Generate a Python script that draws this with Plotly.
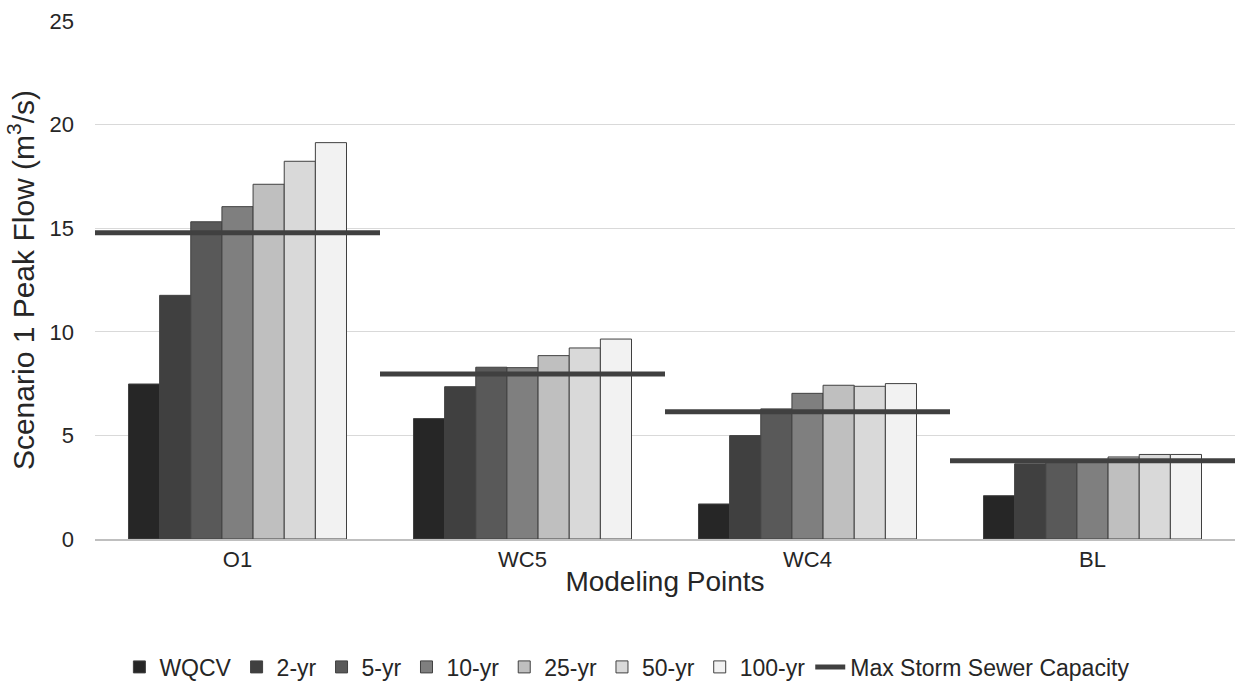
import plotly.graph_objects as go

categories = ["O1", "WC5", "WC4", "BL"]
series_names = ["WQCV", "2-yr", "5-yr", "10-yr", "25-yr", "50-yr", "100-yr"]
wqcv = [7.48, 5.81, 1.69, 2.09]
yr2 = [11.76, 7.35, 4.99, 3.63]
yr5 = [15.31, 8.29, 6.28, 3.74]
yr10 = [16.04, 8.27, 7.03, 3.77]
yr25 = [17.12, 8.85, 7.42, 3.96]
yr50 = [18.23, 9.22, 7.37, 4.08]
yr100 = [19.13, 9.65, 7.50, 4.08]
capacity = [14.78, 7.96, 6.14, 3.78]
y_ticks = [0, 5, 10, 15, 20, 25]

series_values = [wqcv, yr2, yr5, yr10, yr25, yr50, yr100]
colors = ["#262626", "#404040", "#595959", "#7f7f7f", "#bfbfbf", "#d9d9d9", "#f2f2f2"]

FONT = "Liberation Sans, Arial, sans-serif"

fig = go.Figure()
for name, vals, col in zip(series_names, series_values, colors):
    fig.add_trace(go.Bar(
        x=categories, y=vals, name=name,
        marker=dict(color=col, line=dict(color="#404040", width=1)),
    ))

# capacity segments spanning each category slot
cx, cy = [], []
for i, v in enumerate(capacity):
    cx += [i - 0.5, i + 0.5, None]
    cy += [v, v, None]
fig.add_trace(go.Scatter(
    x=cx, y=cy, xaxis="x2", mode="lines", name="Max Storm Sewer Capacity",
    line=dict(color="#404040", width=5), connectgaps=False,
))

fig.update_layout(
    width=1238, height=686,
    margin=dict(l=95, r=3, t=21, b=147, autoexpand=False),
    paper_bgcolor="white", plot_bgcolor="white",
    barmode="group", bargap=0.235, bargroupgap=0,
    font=dict(family=FONT, size=22, color="#262626"),
    showlegend=True,
    legend=dict(orientation="h", x=0.467, xanchor="center", y=-0.247, yanchor="middle",
                font=dict(size=23, color="#262626"), traceorder="normal",
                itemwidth=30, tracegroupgap=0),
    xaxis=dict(
        type="category", range=[-0.5, 3.5], automargin=False,
        showgrid=False, showline=True, linecolor="#bfbfbf", linewidth=1.5,
        ticks="", tickfont=dict(size=22, color="#262626"), ticklabelstandoff=0,
        title=dict(text="Modeling Points", font=dict(size=28, color="#262626"), standoff=0),
    ),
    xaxis2=dict(overlaying="x", range=[-0.5, 3.5], visible=False, fixedrange=True),
    yaxis=dict(
        range=[0, 25], tickvals=y_ticks, showgrid=True, gridcolor="#d9d9d9", gridwidth=1,
        zeroline=False, showline=False, ticks="", automargin=False,
        tickfont=dict(size=22, color="#262626"), ticklabelstandoff=20,
        title=dict(text="Scenario 1 Peak Flow (m<sup>3</sup>/s)", font=dict(size=30, color="#262626"), standoff=6),
    ),
)

fig.write_html("out.html")
